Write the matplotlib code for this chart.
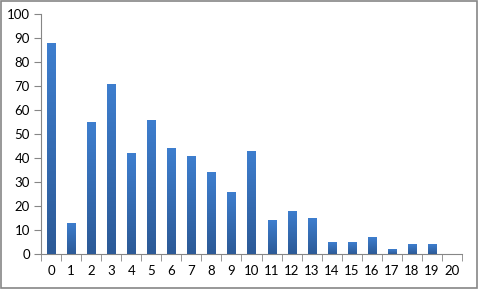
import numpy as np
import matplotlib.pyplot as plt
from matplotlib.colors import LinearSegmentedColormap

categories = [str(i) for i in range(21)]
values = [88, 13, 55, 71, 42, 56, 44, 41, 34, 26, 43, 14, 18, 15, 5, 5, 7, 2, 4, 4, 0]

plt.rcParams['font.family'] = ['Lato', 'DejaVu Sans']

fig = plt.figure(figsize=(4.78, 2.89), dpi=100)
ax = fig.add_axes([41 / 478, 35 / 289, 421 / 478, 240 / 289])

x = np.arange(len(categories))
bars = ax.bar(x, values, width=0.4, color='#3A72BE', zorder=2)

# vertical gradient in each bar, lighter on top
cmap = LinearSegmentedColormap.from_list('bar', ['#2C5A97', '#3E7ECE'])
grad = np.linspace(0, 1, 64).reshape(-1, 1)
for b in bars:
    h = b.get_height()
    if h <= 0:
        continue
    im = ax.imshow(grad, cmap=cmap, origin='lower', aspect='auto',
                   extent=[b.get_x(), b.get_x() + b.get_width(), 0, h], zorder=3)
    im.set_clip_path(b)

ax.set_xlim(-0.5, len(categories) - 0.5)
ax.set_ylim(0, 100)
ax.set_yticks(range(0, 101, 10))
ax.set_xticks(x)
ax.set_xticklabels(categories)
ax.set_xticks(np.arange(-0.5, len(categories), 1), minor=True)

for s in ['top', 'right']:
    ax.spines[s].set_visible(False)
for s in ['left', 'bottom']:
    ax.spines[s].set_color('#868686')
ax.tick_params(axis='x', which='major', length=0, pad=8, labelsize=9.5)
ax.tick_params(axis='x', which='minor', length=5, color='#868686')
ax.tick_params(axis='y', length=5, color='#868686', labelsize=9.5, pad=3)

# chart area border
fig.patches.append(plt.Rectangle((0.002, 0.003), 0.995, 0.993, transform=fig.transFigure,
                                 fill=False, edgecolor='#868686', linewidth=1.2))

fig.savefig('out.png', dpi=100)
